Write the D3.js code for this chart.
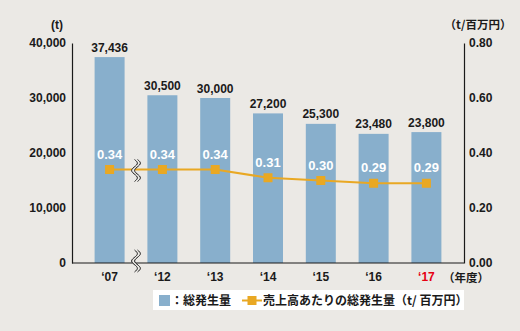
<!DOCTYPE html>
<html>
<head>
<meta charset="utf-8">
<script src="https://cdn.jsdelivr.net/npm/d3@7"></script>
<style>
  html, body { margin: 0; padding: 0; background: #ebe9e5; }
  svg { display: block; }
  text { font-family: "Liberation Sans", Arial, "Noto Sans CJK JP", sans-serif; }
  .jp { font-family: "Noto Sans CJK JP", "Liberation Sans", sans-serif; }
</style>
</head>
<body>
<svg id="chart" width="520" height="331"></svg>
<script>
// Fiscal years shown on the x axis
const years = ["‘07", "‘12", "‘13", "‘14", "‘15", "‘16", "‘17"];
// Total waste generated (t)
const totalWaste = [37436, 30500, 30000, 27200, 25300, 23480, 23800];
// Waste generated per sales (t / million yen)
const wastePerSales = [0.34, 0.34, 0.34, 0.31, 0.30, 0.29, 0.29];
// Axis tick values
const leftTicks = [0, 10000, 20000, 30000, 40000];
const rightTicks = [0, 0.2, 0.4, 0.6, 0.8];

const BG = "#ebe9e5";
const BAR = "#88afcc";
const LINE = "#e9a823";
const INK = "#1a1a1a";

const svg = d3.select("#chart");
svg.append("rect").attr("width", 520).attr("height", 331).attr("fill", BG);

const plotL = 72, plotR = 464, plotT = 43, plotB = 263;

const x = d3.scaleBand()
  .domain(years)
  .range([plotL, plotR])
  .paddingInner(0.432)
  .paddingOuter(0.428);

const yL = d3.scaleLinear().domain([0, 40000]).range([plotB, plotT]);
const yR = d3.scaleLinear().domain([0, 0.8]).range([plotB, plotT]);

// Bars
svg.append("g").selectAll("rect")
  .data(years)
  .join("rect")
  .attr("x", d => x(d))
  .attr("y", (d, i) => yL(totalWaste[i]))
  .attr("width", x.bandwidth())
  .attr("height", (d, i) => plotB - yL(totalWaste[i]))
  .attr("fill", BAR);

// Bar value labels
svg.append("g").selectAll("text")
  .data(years)
  .join("text")
  .attr("x", d => x(d) + x.bandwidth() / 2)
  .attr("y", (d, i) => yL(totalWaste[i]) - 5.5)
  .attr("text-anchor", "middle")
  .attr("font-size", 12)
  .attr("font-weight", "bold")
  .attr("fill", INK)
  .text((d, i) => d3.format(",")(totalWaste[i]));

// Left axis
const axL = svg.append("g")
  .attr("transform", `translate(${plotL},0)`)
  .call(d3.axisLeft(yL).tickValues(leftTicks).tickFormat(d3.format(",")).tickSize(0).tickPadding(6));
axL.select(".domain").attr("stroke", INK).attr("stroke-width", 1.2);
axL.selectAll("text").attr("font-size", 12).attr("font-weight", "bold").attr("fill", INK)
  .attr("font-family", "Liberation Sans, Arial, sans-serif");

// Right axis
const axR = svg.append("g")
  .attr("transform", `translate(${plotR},0)`)
  .call(d3.axisRight(yR).tickValues(rightTicks).tickFormat(d3.format(".2f")).tickSize(0).tickPadding(5));
axR.select(".domain").attr("stroke", INK).attr("stroke-width", 1.2);
axR.selectAll("text").attr("font-size", 12).attr("font-weight", "bold").attr("fill", INK)
  .attr("font-family", "Liberation Sans, Arial, sans-serif");

// Bottom axis
const axB = svg.append("g")
  .attr("transform", `translate(0,${plotB})`)
  .call(d3.axisBottom(x).tickSize(0).tickPadding(9));
axB.select(".domain").attr("stroke", INK).attr("stroke-width", 1.2).attr("d", `M${plotL},0H${plotR}`);
axB.selectAll("text").attr("font-size", 12).attr("font-weight", "bold")
  .attr("font-family", "Liberation Sans, Arial, sans-serif")
  .attr("fill", d => d === "‘17" ? "#e60012" : INK);

// Unit labels
svg.append("text").attr("x", 57).attr("y", 29).attr("text-anchor", "middle")
  .attr("font-size", 12).attr("font-weight", "bold").attr("fill", INK).text("(t)");
svg.append("text").attr("class", "jp").attr("x", 478).attr("y", 29).attr("text-anchor", "middle")
  .attr("font-size", 11.5).attr("font-weight", "bold").attr("fill", INK).text("（t/百万円）");
svg.append("text").attr("class", "jp").attr("x", 466).attr("y", 282).attr("text-anchor", "middle")
  .attr("font-size", 11.5).attr("font-weight", "bold").attr("fill", INK).text("（年度）");

// Per-sales line
const cx = (d) => x(d) + x.bandwidth() / 2;
const line = d3.line().x((d, i) => cx(years[i])).y(d => yR(d));
svg.append("path").datum(wastePerSales)
  .attr("d", line).attr("fill", "none").attr("stroke", LINE).attr("stroke-width", 2);
svg.append("g").selectAll("rect")
  .data(wastePerSales)
  .join("rect")
  .attr("x", (d, i) => cx(years[i]) - 4.5)
  .attr("y", d => yR(d) - 4.5)
  .attr("width", 9).attr("height", 9)
  .attr("fill", LINE);

// Line value labels
svg.append("g").selectAll("text")
  .data(wastePerSales)
  .join("text")
  .attr("x", (d, i) => cx(years[i]))
  .attr("y", d => yR(d) - 11)
  .attr("text-anchor", "middle")
  .attr("font-size", 13)
  .attr("font-weight", "bold")
  .attr("fill", "#fff")
  .text(d => d3.format(".2f")(d));

// Axis-break marks between '07 and '12
function wave(x0, y0, h) {
  return d3.range(0, 1.0001, 0.05).map(t => [x0 + 3 * Math.sin(t * Math.PI * 3), y0 + t * h]);
}
function breakMark(xc, yc) {
  const h = 22, gap = 3;
  const a = wave(xc - gap / 2, yc - h / 2, h);
  const b = wave(xc + gap / 2, yc - h / 2, h);
  const g = svg.append("g");
  g.append("path").attr("d", d3.line()(a.concat(b.slice().reverse())) + "Z").attr("fill", BG);
  g.append("path").attr("d", d3.line().curve(d3.curveBasis)(a)).attr("fill", "none").attr("stroke", INK).attr("stroke-width", 1);
  g.append("path").attr("d", d3.line().curve(d3.curveBasis)(b)).attr("fill", "none").attr("stroke", INK).attr("stroke-width", 1);
}
const brX = (cx(years[0]) + cx(years[1])) / 2;
breakMark(brX, yR(wastePerSales[0]) + 1);
breakMark(brX, plotB - 2);

// Legend
const lg = svg.append("g");
lg.append("rect").attr("x", 153).attr("y", 290).attr("width", 311).attr("height", 20).attr("fill", "#fff");
lg.append("rect").attr("x", 159).attr("y", 295).attr("width", 11).attr("height", 11).attr("fill", BAR);
lg.append("text").attr("class", "jp").attr("x", 171).attr("y", 304.5)
  .attr("font-size", 12).attr("font-weight", "bold").attr("fill", INK).text("：総発生量");
lg.append("line").attr("x1", 242).attr("x2", 262).attr("y1", 300.5).attr("y2", 300.5)
  .attr("stroke", LINE).attr("stroke-width", 2);
lg.append("rect").attr("x", 247.5).attr("y", 296).attr("width", 9).attr("height", 9).attr("fill", LINE);
lg.append("text").attr("class", "jp").attr("x", 263).attr("y", 304.5)
  .attr("font-size", 12).attr("font-weight", "bold").attr("fill", INK).text("売上高あたりの総発生量（t/ 百万円）");
</script>
</body>
</html>
